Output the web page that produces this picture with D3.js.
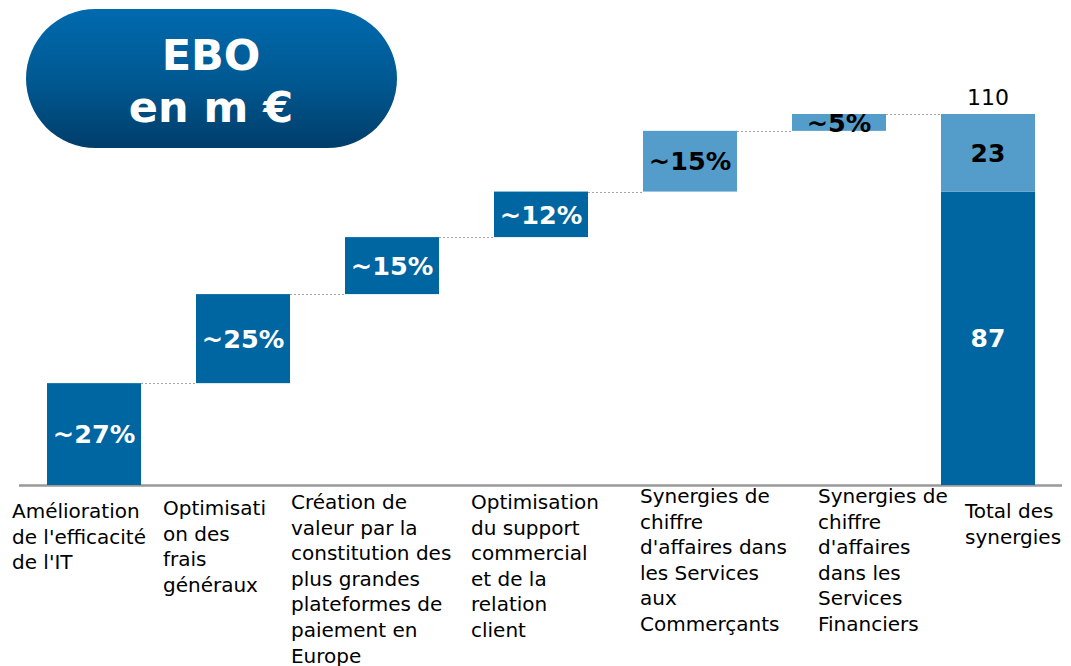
<!DOCTYPE html>
<html>
<head>
<meta charset="utf-8">
<script src="https://cdn.jsdelivr.net/npm/d3@7"></script>
<style>
  body { margin: 0; background: #fff; }
  svg text { font-family: "DejaVu Sans", Verdana, sans-serif; }
</style>
</head>
<body>
<div id="chart"></div>
<script>

// data
var categories = ["ame", "opt", "cre", "sup", "sac", "sfi", "tot"];
var labelLines = [
    ["Amélioration", "de l'efficacité", "de l'IT"],
    ["Optimisati", "on des", "frais", "généraux"],
    ["Création de", "valeur par la", "constitution des", "plus grandes", "plateformes de", "paiement en", "Europe"],
    ["Optimisation", "du support", "commercial", "et de la", "relation", "client"],
    ["Synergies de", "chiffre", "d'affaires dans", "les Services", "aux", "Commerçants"],
    ["Synergies de", "chiffre", "d'affaires", "dans les", "Services", "Financiers"],
    ["Total des", "synergies"]
];
var stepValues = [30.2, 26.4, 16.9, 13.5, 18.0, 5.0];
var stepLabels = ["~27%", "~25%", "~15%", "~12%", "~15%", "~5%"];
var stepKind = ["cost", "cost", "cost", "cost", "rev", "rev"];
var totalCost = 87, totalRev = 23, totalAll = 110;

// layout of the text blocks under the axis (offset from bar left, first baseline)
var labelDx = [-35, -33, -54, -23, -3, 26, 24];
var labelY = [518, 515, 509, 509, 503, 503, 518];

var width = 1071, height = 666;
var dark = "#0066a1", light = "#549cca";

var svg = d3.select("#chart").append("svg")
        .attr("width", width)
        .attr("height", height);

var x = d3.scaleBand()
        .domain(categories)
        .range([47, 1035])
        .paddingInner(0.369)
        .paddingOuter(0);

var y = d3.scaleLinear()
        .domain([0, totalAll])
        .range([485, 114]);

// title pill
var grad = svg.append("defs").append("linearGradient")
        .attr("id", "pill")
        .attr("x1", 0).attr("y1", 0).attr("x2", 0).attr("y2", 1);
grad.append("stop").attr("offset", "0%").attr("stop-color", "#006aae");
grad.append("stop").attr("offset", "55%").attr("stop-color", "#00578f");
grad.append("stop").attr("offset", "100%").attr("stop-color", "#003d6a");

svg.append("rect")
        .attr("x", 26).attr("y", 9)
        .attr("width", 371).attr("height", 139)
        .attr("rx", 69.5).attr("ry", 69.5)
        .style("fill", "url(#pill)");

svg.append("text")
        .attr("x", 211).attr("y", 70)
        .attr("text-anchor", "middle")
        .style("font-size", "43px").style("font-weight", "bold")
        .style("fill", "#fff")
        .text("EBO");
svg.append("text")
        .attr("x", 211).attr("y", 122)
        .attr("text-anchor", "middle")
        .style("font-size", "43px").style("font-weight", "bold")
        .style("fill", "#fff")
        .text("en m €");

// running totals for the waterfall
var steps = [];
var cum = 0;
stepValues.forEach(function(v, i) {
    steps.push({cat: categories[i], start: cum, end: cum + v, label: stepLabels[i], kind: stepKind[i]});
    cum += v;
});

// dotted connectors
var conn = steps.map(function(d, i) {
    return {from: d.cat, to: categories[i + 1], level: d.end};
});
svg.selectAll(".conn")
        .data(conn)
      .enter().append("line")
        .attr("class", "conn")
        .attr("x1", function(d) { return x(d.from) + x.bandwidth(); })
        .attr("x2", function(d) { return x(d.to); })
        .attr("y1", function(d) { return Math.round(y(d.level)) + 0.5; })
        .attr("y2", function(d) { return Math.round(y(d.level)) + 0.5; })
        .style("stroke", "#a6a6a6")
        .style("stroke-width", 1)
        .style("stroke-dasharray", "2,2");

// axis line
svg.append("line")
        .attr("x1", 19).attr("x2", 1062)
        .attr("y1", y(0) + 0.5).attr("y2", y(0) + 0.5)
        .style("stroke", "#999")
        .style("stroke-width", 2.5);

// step bars
svg.selectAll(".step")
        .data(steps)
      .enter().append("rect")
        .attr("class", "step")
        .attr("x", function(d) { return x(d.cat); })
        .attr("y", function(d) { return y(d.end); })
        .attr("width", x.bandwidth())
        .attr("height", function(d) { return y(d.start) - y(d.end); })
        .style("fill", function(d) { return d.kind == "cost" ? dark : light; });

svg.selectAll(".steplabel")
        .data(steps)
      .enter().append("text")
        .attr("class", "steplabel")
        .attr("x", function(d) { return x(d.cat) + x.bandwidth() / 2; })
        .attr("y", function(d) { return (y(d.start) + y(d.end)) / 2; })
        .attr("dy", "0.36em")
        .attr("text-anchor", "middle")
        .style("font-size", "25.5px").style("font-weight", "bold")
        .style("fill", function(d) { return d.kind == "cost" ? "#fff" : "#000"; })
        .text(function(d) { return d.label; });

// total bar
var totals = [
    {start: 0, end: totalCost, color: dark, txt: "#fff"},
    {start: totalCost, end: totalCost + totalRev, color: light, txt: "#000"}
];
var tx = x("tot");
svg.selectAll(".total")
        .data(totals)
      .enter().append("rect")
        .attr("class", "total")
        .attr("x", tx)
        .attr("y", function(d) { return y(d.end); })
        .attr("width", x.bandwidth())
        .attr("height", function(d) { return y(d.start) - y(d.end); })
        .style("fill", function(d) { return d.color; });

svg.selectAll(".totallabel")
        .data(totals)
      .enter().append("text")
        .attr("class", "totallabel")
        .attr("x", tx + x.bandwidth() / 2)
        .attr("y", function(d) { return (y(d.start) + y(d.end)) / 2; })
        .attr("dy", "0.36em")
        .attr("text-anchor", "middle")
        .style("font-size", "25px").style("font-weight", "bold")
        .style("fill", function(d) { return d.txt; })
        .text(function(d) { return d.end - d.start; });

svg.append("text")
        .attr("x", tx + x.bandwidth() / 2)
        .attr("y", y(totalAll) - 9)
        .attr("text-anchor", "middle")
        .style("font-size", "22px")
        .style("fill", "#000")
        .text(totalAll);

// category labels
var cl = svg.selectAll(".catlabel")
        .data(labelLines)
      .enter().append("text")
        .attr("class", "catlabel")
        .attr("x", function(d, i) { return x(categories[i]) + labelDx[i]; })
        .attr("y", function(d, i) { return labelY[i]; })
        .style("font-size", "20px")
        .style("fill", "#000");

cl.selectAll("tspan")
        .data(function(d, i) { return d.map(function(t) { return {t: t, i: i}; }); })
      .enter().append("tspan")
        .attr("x", function(d) { return x(categories[d.i]) + labelDx[d.i]; })
        .attr("dy", function(d, j) { return j == 0 ? 0 : 25.6; })
        .text(function(d) { return d.t; });

</script>
</body>
</html>
